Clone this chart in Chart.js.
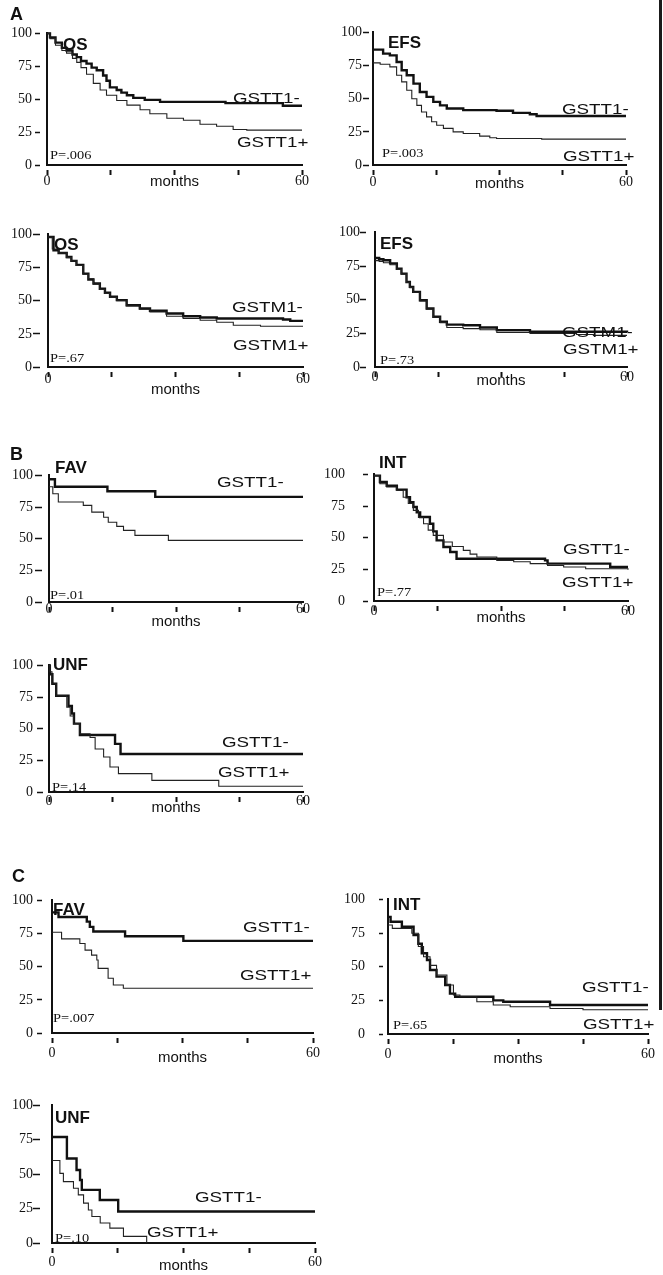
<!DOCTYPE html>
<html>
<head>
<meta charset="utf-8">
<script src="https://cdn.jsdelivr.net/npm/chart.js@4.4.1/dist/chart.umd.min.js"></script>
<style>
  body { margin: 0; background: #fff; }
  #page { position: relative; width: 663px; height: 1275px; overflow: hidden; background: #fff; }
  #page canvas { position: absolute; }
  .note { position: absolute; white-space: nowrap; line-height: 1; color: #111; }
  .sec { font: bold 18px "Liberation Sans", Arial, sans-serif; }
  .ttl { font: bold 17px "Liberation Sans", Arial, sans-serif; }
  .grp { font: 15px "Liberation Sans", Arial, sans-serif; transform: scaleX(1.25); transform-origin: 0 0; }
  .pv { font: 12px "Liberation Serif", "Times New Roman", serif; transform: scaleX(1.2); transform-origin: 0 0; }
  #edge { position: absolute; left: 659px; top: 0; width: 3px; height: 1010px; background: #1a1a1a; }
</style>
</head>
<body>
<div id="page"><div id="edge"></div></div>
<script>
// axis ticks
const xTicks = [0, 15, 30, 45, 60];
const xTickLabels = ['0', '', ['', 'months'], '', '60'];
const yTicks = [0, 25, 50, 75, 100];

// A: OS by GSTT1  [month, % surviving]
const aOsGsttNeg = [[0,100],[0.7,97],[2,93],[3.5,89],[4.6,87],[6,84],[7,82],[8,79],[9.3,77],[10.5,74],[11.7,72],[13.2,68],[14,64],[14.8,59],[16.4,57],[17.5,55],[18.8,53],[20.3,51],[23,49.5],[26.6,48],[42,47],[55.5,45],[60,45]];
const aOsGsttPos = [[0,100],[0.7,96],[2,91],[3.5,87],[4.6,85],[6,81],[7,78],[8,74],[9.3,69],[10.9,62],[12.5,57],[14,53],[16.4,49],[18.8,45.5],[21.9,42],[24.2,39],[28.2,35.5],[32.1,34],[36,31],[39.9,29.5],[43.8,27],[47,26.5],[60,26.5]];
// A: EFS by GSTT1
const aEfsGsttNeg = [[0,87],[1.7,87],[2.4,84],[4,82.7],[5.6,77.7],[6.8,71.4],[8,67.7],[9.6,61.4],[11.1,55],[12.7,51.4],[14.3,47.6],[15.9,45],[17.5,42.6],[21.4,41.4],[29.3,40.9],[33.2,39.3],[37.2,38.3],[38.8,37],[60,37]];
const aEfsGsttPos = [[0,77],[1.7,76],[4,74],[5.6,67.7],[6.8,62.7],[8,56.4],[9.2,50],[10.4,45],[11.5,40],[12.7,36.3],[13.9,32.6],[15.1,30],[16.7,27.6],[19,25],[21.4,23.8],[25.3,21.8],[27.7,20.6],[29.3,20],[40,19.5],[60,19.5]];
// A: OS by GSTM1
const aOsGstmNeg = [[0,98],[1.3,88],[2.5,86],[4.4,83],[5.5,80],[6.7,77],[8.3,70.4],[9.5,66],[10.7,63],[12.2,59],[13.4,56],[14.6,53],[16.2,50.4],[18.5,46.6],[21.6,44.1],[24,42.4],[27.9,40.4],[31.8,38.3],[35.8,37.3],[39.7,36.6],[55.3,35.8],[57,34.8],[60,34.8]];
const aOsGstmPos = [[0,98],[1,89],[2.5,86],[4.4,82.5],[5.5,80],[6.7,76.5],[8.3,70],[9.5,66.5],[10.7,62.5],[12.2,58.5],[13.4,55.5],[14.6,52.5],[16.2,50],[18.5,46],[21.6,43.5],[24,41.5],[27.9,38.3],[31.8,36.6],[35.8,35.3],[39.7,33.8],[43.6,31.5],[50,30.7],[60,30.7]];
// A: EFS by GSTM1
const aEfsGstmNeg = [[0,81],[1,80],[2,79.3],[3.6,77],[5.2,73],[6.3,69.4],[7.5,63.2],[8.3,59.5],[9.1,55.8],[10.7,49.6],[12.3,43.5],[13.9,37.3],[15.5,33.6],[17.1,31.5],[21,31],[25,29.4],[29,27.4],[36.9,26.2],[60,26]];
const aEfsGstmPos = [[0,79],[1,78.5],[2,77.5],[3.6,76],[5.2,72.5],[6.3,69],[7.5,63],[8.3,59],[9.1,55.5],[10.7,49],[12.3,43],[13.9,37],[15.5,33],[17.1,29.4],[21,28.5],[25,27.7],[29,25.7],[36.9,25],[48,24.2],[52,23.5],[60,23.5]];

// B: by cytogenetic risk group
const bFavNeg = [[0,97],[1.4,91],[13.8,87.5],[25.1,83],[60,83]];
const bFavPos = [[0,91],[0.9,85.5],[2.2,79],[8.1,76.3],[10.1,71],[12.9,67],[14,63],[16,59.7],[17.6,56.6],[20.3,52.6],[28.2,48.7],[60,48.7]];
const bIntNeg = [[0,99],[1.4,94],[3,91],[5.4,88],[7.7,82],[8.5,78],[9.3,74.2],[10.1,70],[10.9,66.3],[13.2,61],[14,55],[14.8,47.9],[16.4,42.6],[18,38.7],[19.5,33.4],[40.4,32.1],[41,29.5],[55.8,26.8],[60,26.8]];
const bIntPos = [[0,99],[1.4,92.6],[3,90],[5.4,87.4],[6.9,82],[8.1,77],[9.3,71.6],[10.5,66],[11.7,61],[12.8,56],[14,51.8],[16.4,46.6],[18.5,43],[21.1,40],[22.7,37],[24.3,34.7],[29,32.1],[33,31],[36.9,29.5],[41,28],[44.8,26.8],[50,25.5],[60,24.7]];
const bUnfNeg = [[0,100],[0.2,93],[0.8,85.5],[1.7,76],[4.6,68],[5.4,62],[5.9,54],[7.3,45],[15.6,38],[16.9,30],[60,30]];
const bUnfPos = [[0,100],[0.2,95],[0.7,85.5],[1.7,76],[4.2,67],[5,60],[5.8,54],[7.3,46],[9.7,43],[10.9,34],[12.9,27.6],[14.4,19.7],[16.4,14.5],[24.3,9.2],[40.1,4.5],[60,4.5]];

// C: by risk group, second endpoint
const cFavNeg = [[0,91],[1.5,87.5],[8,84],[8.7,80],[9.5,76.5],[16.8,73],[30.2,69.5],[60,69.5]];
const cFavPos = [[0,76],[2.2,71],[6.4,67.5],[7.6,62.5],[9.1,58.75],[10.3,55],[10.6,48.75],[12.9,41.25],[14.1,36.25],[16.4,33.75],[60,33.75]];
const cIntNeg = [[0,87],[0.6,83.4],[3.2,79.7],[5.9,73.5],[7,67],[7.8,60],[9,55],[9.7,47.5],[11.2,42.6],[13.2,36.4],[14.3,30],[15.5,27.7],[24.3,25],[26.6,24],[37.4,21.5],[60,21.5]];
const cIntPos = [[0,81],[1,78.5],[5.5,74.8],[7,65],[8.2,57.4],[9.7,51],[11.2,43.8],[13.6,36.4],[15.1,29],[16.6,27.7],[20.5,24],[24.3,21.5],[28.2,20.3],[37.4,19],[45,18],[60,18]];
const cUnfNeg = [[0,77],[3.4,61.4],[5.6,53],[6.4,45.8],[6.8,38.6],[10.9,31.3],[15.1,22.9],[60,22.9]];
const cUnfPos = [[0,60],[1.8,50.6],[2.6,44.6],[4.9,39.8],[6,35],[7.2,29],[8.3,24],[9.1,19.3],[11,14.5],[13.2,10.8],[16.3,4.8],[21.6,0]];

// where each plot sits on the page (axis pixels) and its tick styling
// xl: gap axis -> digit top, md: how much lower "months" sits than the digits
const panels = [
  { neg: aOsGsttNeg, pos: aOsGsttPos, ax: 47, x60: 302, y100: 33, y0: 165, tl: 12, dash: 5, pad: 3, xl: 12, md: 0 },
  { neg: aEfsGsttNeg, pos: aEfsGsttPos, ax: 373, x60: 626, y100: 32, y0: 165, tl: 10, dash: 6, pad: 1, xl: 13, md: 2 },
  { neg: aOsGstmNeg, pos: aOsGstmPos, ax: 48, x60: 303, y100: 234, y0: 367, tl: 15, dash: 7, pad: 1, xl: 8, md: 10 },
  { neg: aEfsGstmNeg, pos: aEfsGstmPos, ax: 375, x60: 627, y100: 232, y0: 367, tl: 15, dash: 6, pad: 0, xl: 6, md: 3 },
  { neg: bFavNeg, pos: bFavPos, ax: 49, x60: 303, y100: 475, y0: 602, tl: 14, dash: 7, pad: 2, xl: 3, md: 12 },
  { neg: bIntNeg, pos: bIntPos, ax: 374, x60: 628, y100: 474, y0: 601, tl: 11, dash: 5, pad: 18, xl: 6, md: 6 },
  { neg: bUnfNeg, pos: bUnfPos, ax: 49, x60: 303, y100: 665, y0: 792, tl: 12, dash: 6, pad: 4, xl: 5, md: 6 },
  { neg: cFavNeg, pos: cFavPos, ax: 52, x60: 313, y100: 900, y0: 1033, tl: 15, dash: 5, pad: 4, xl: 16, md: 5 },
  { neg: cIntNeg, pos: cIntPos, ax: 388, x60: 648, y100: 899, y0: 1034, tl: 9, dash: 4, pad: 14, xl: 16, md: 5 },
  { neg: cUnfNeg, pos: cUnfPos, ax: 52, x60: 315, y100: 1105, y0: 1243, tl: 19, dash: 7, pad: 0, xl: 15, md: 3 }
];

// text on top of the plots: [text, class, left, cap top]
const notes = [
  ['A', 'sec', 10, 6], ['B', 'sec', 10, 446], ['C', 'sec', 12, 868],
  ['OS', 'ttl', 63, 37], ['EFS', 'ttl', 388, 35], ['OS', 'ttl', 54, 237], ['EFS', 'ttl', 380, 236],
  ['FAV', 'ttl', 55, 460], ['INT', 'ttl', 379, 455], ['UNF', 'ttl', 53, 657],
  ['FAV', 'ttl', 53, 902], ['INT', 'ttl', 393, 897], ['UNF', 'ttl', 55, 1110],
  ['GSTT1-', 'grp', 233, 91], ['GSTT1+', 'grp', 237, 135],
  ['GSTT1-', 'grp', 562, 102], ['GSTT1+', 'grp', 563, 149],
  ['GSTM1-', 'grp', 232, 300], ['GSTM1+', 'grp', 233, 338],
  ['GSTM1-', 'grp', 562, 325], ['GSTM1+', 'grp', 563, 342],
  ['GSTT1-', 'grp', 217, 475],
  ['GSTT1-', 'grp', 563, 542], ['GSTT1+', 'grp', 562, 575],
  ['GSTT1-', 'grp', 222, 735], ['GSTT1+', 'grp', 218, 765],
  ['GSTT1-', 'grp', 243, 920], ['GSTT1+', 'grp', 240, 968],
  ['GSTT1-', 'grp', 582, 980], ['GSTT1+', 'grp', 583, 1017],
  ['GSTT1-', 'grp', 195, 1190], ['GSTT1+', 'grp', 147, 1225],
  ['P=.006', 'pv', 50, 150], ['P=.003', 'pv', 382, 148], ['P=.67', 'pv', 50, 353], ['P=.73', 'pv', 380, 355],
  ['P=.01', 'pv', 50, 590], ['P=.77', 'pv', 377, 587], ['P=.14', 'pv', 52, 782],
  ['P=.007', 'pv', 53, 1013], ['P=.65', 'pv', 393, 1020], ['P=.10', 'pv', 55, 1233]
];

const page = document.getElementById('page');
const ink = '#111';

function toPts(arr) {
  return arr.map(([x, y]) => ({ x: x, y: y }));
}

function makeChart(cv, W, H, p) {
  cv.width = W;
  cv.height = H;
  // "months" is a two-line label with an empty first line; its line height sets how far it drops
  const monthsLine = ((p.md + 8.4) / 1.5).toFixed(1) + 'px';
  return new Chart(cv, {
    type: 'line',
    data: {
      datasets: [
        { data: toPts(p.pos), borderColor: '#222', borderWidth: 1.1, stepped: true, pointRadius: 0, fill: false, clip: 8 },
        { data: toPts(p.neg), borderColor: ink, borderWidth: 2.4, stepped: true, pointRadius: 0, fill: false, clip: 8 }
      ]
    },
    options: {
      responsive: false,
      maintainAspectRatio: false,
      animation: false,
      events: [],
      layout: { padding: { top: 2, right: 14 } },
      plugins: { legend: { display: false }, tooltip: { enabled: false } },
      scales: {
        x: {
          type: 'linear', min: 0, max: 60,
          afterBuildTicks: s => { s.ticks = xTicks.map(v => ({ value: v })); },
          afterFit: s => { s.height = 34; },
          ticks: {
            autoSkip: false, maxRotation: 0, padding: p.xl - 14, color: ink,
            callback: (v, i) => xTickLabels[i],
            font: c => (c.tick && c.tick.value === 30)
              ? { family: 'Liberation Sans', size: 15, lineHeight: monthsLine }
              : { family: 'Liberation Serif', size: 14 }
          },
          grid: { drawOnChartArea: false, tickLength: 10, tickWidth: 2, tickColor: ink, tickBorderDash: [6, 30], tickBorderDashOffset: 32 },
          border: { width: 2, color: ink }
        },
        y: {
          min: 0, max: 100,
          afterBuildTicks: s => { s.ticks = yTicks.map(v => ({ value: v })); },
          afterFit: s => { s.width = p.tl + p.pad + 32; },
          ticks: { padding: p.pad, color: ink, font: { family: 'Liberation Serif', size: 14 }, callback: v => String(v) },
          grid: { drawOnChartArea: false, tickLength: p.tl, tickWidth: 1.5, tickColor: ink, tickBorderDash: [p.dash, 40] },
          border: { width: 2, color: ink }
        }
      }
    }
  });
}

// build each plot, then nudge the canvas so its plot area lands on the reference axes
panels.forEach(p => {
  const cv = document.createElement('canvas');
  page.appendChild(cv);
  const plotW = p.x60 - p.ax, plotH = p.y0 - p.y100;
  let W = plotW + p.tl + p.pad + 32 + 24, H = plotH + 12 + 34;
  let chart = makeChart(cv, W, H, p);
  const a = chart.chartArea;
  const dw = Math.round(plotW - (a.right - a.left)), dh = Math.round(plotH - (a.bottom - a.top));
  if (dw || dh) {
    chart.destroy();
    W += dw; H += dh;
    chart = makeChart(cv, W, H, p);
  }
  const b = chart.chartArea;
  cv.style.left = Math.round(p.ax - b.left) + 'px';
  cv.style.top = Math.round(p.y100 - b.top) + 'px';
});

notes.forEach(([t, cls, x, capTop]) => {
  const d = document.createElement('div');
  d.className = 'note ' + cls;
  d.textContent = t;
  d.style.left = x + 'px';
  d.style.top = (capTop - 2) + 'px';
  page.appendChild(d);
});
</script>
</body>
</html>
